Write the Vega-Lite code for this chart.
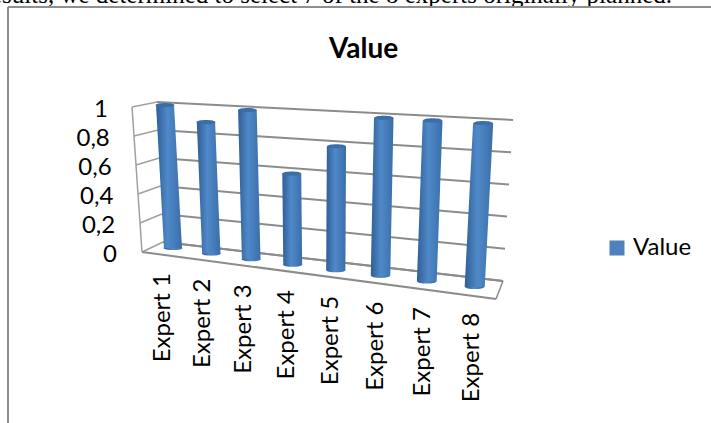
{"$schema":"https://vega.github.io/schema/vega-lite/v6.json","width":711,"height":423,"padding":0,"autosize":"none","background":"white","view":{"stroke":null},
"config":{"font":"Lato","axis":{"disable":true}},
"title":{"text":"Value","font":"Lato","fontSize":28,"fontWeight":"bold","anchor":"start","frame":"group","dx":329,"dy":85,"color":"#000"},
"datasets":{"bars":[{"expert":"Expert 1","i":0,"value":1},{"expert":"Expert 2","i":1,"value":0.9},{"expert":"Expert 3","i":2,"value":1},{"expert":"Expert 4","i":3,"value":0.6},{"expert":"Expert 5","i":4,"value":0.8},{"expert":"Expert 6","i":5,"value":1},{"expert":"Expert 7","i":6,"value":1},{"expert":"Expert 8","i":7,"value":1}],
"ticks":[{"v":0},{"v":0.2},{"v":0.4},{"v":0.6},{"v":0.8},{"v":1}],"depth":[{"d":0},{"d":1}],"caption":[{"t":"results, we determined to select 7 of the 8 experts originally planned."}]},
"encoding":{"x":{"field":"px","type":"quantitative","scale":{"domain":[0,711]},"axis":null},"y":{"field":"py","type":"quantitative","scale":{"domain":[423,0]},"axis":null}},
"layer":[
{"data":{"name":"caption"},"transform":[{"calculate":"672","as":"px"},{"calculate":"3","as":"py"}],"mark":{"type":"text","font":"Liberation Serif","fontSize":25,"align":"right","baseline":"alphabetic","color":"#000"},"encoding":{"text":{"field":"t"}}},
{"data":{"name":"depth"},"transform":[{"calculate":"8","as":"px"},{"calculate":"7","as":"py"},{"calculate":"datum.d==0?8:711","as":"px2"},{"calculate":"datum.d==0?423:7","as":"py2"}],"mark":{"type":"rule","stroke":"#8f8f8f","strokeWidth":2},"encoding":{"x2":{"field":"px2"},"y2":{"field":"py2"}}},
{"data":{"name":"ticks"},"transform":[{"calculate":"163-6*datum.v","as":"px"},{"calculate":"242-140*datum.v","as":"py"},{"calculate":"503+10*datum.v","as":"px2"},{"calculate":"281-161*datum.v","as":"py2"}],"mark":{"type":"rule","stroke":"#8c8c8c","strokeWidth":2},"encoding":{"x2":{"field":"px2"},"y2":{"field":"py2"}}},
{"data":{"name":"ticks"},"transform":[{"calculate":"142-10*datum.v","as":"px"},{"calculate":"252-145*datum.v","as":"py"},{"calculate":"163-6*datum.v","as":"px2"},{"calculate":"242-140*datum.v","as":"py2"}],"mark":{"type":"rule","stroke":"#a0a0a0","strokeWidth":1.5},"encoding":{"x2":{"field":"px2"},"y2":{"field":"py2"}}},
{"data":{"name":"ticks"},"transform":[{"calculate":"142-10*datum.v","as":"px"},{"calculate":"252-145*datum.v","as":"py"}],"mark":{"type":"line","stroke":"#a0a0a0","strokeWidth":1.5},"encoding":{}},
{"data":{"name":"depth"},"transform":[{"calculate":"142+21*datum.d","as":"px"},{"calculate":"252-10*datum.d","as":"py"},{"calculate":"496+7*datum.d","as":"px2"},{"calculate":"299-18*datum.d","as":"py2"}],"mark":{"type":"rule","stroke":"#8c8c8c","strokeWidth":2},"encoding":{"x2":{"field":"px2"},"y2":{"field":"py2"}}},
{"data":{"name":"depth"},"transform":[{"calculate":"496+7*datum.d","as":"px"},{"calculate":"299-18*datum.d","as":"py"}],"mark":{"type":"line","stroke":"#8c8c8c","strokeWidth":1.5},"encoding":{}},
{"data":{"name":"ticks"},"transform":[{"calculate":"117-9*datum.v","as":"px"},{"calculate":"255-145*datum.v","as":"py"},{"calculate":"replace(format(datum.v,'.1~f'),'.',',')","as":"label"}],"mark":{"type":"text","fontSize":24,"align":"right","baseline":"middle","color":"#000"},"encoding":{"text":{"field":"label"}}},
{"data":{"name":"bars"},"transform":[{"calculate":"163+39*datum.i+0.73*datum.i*datum.i","as":"px"},{"calculate":"273+5.7*datum.i","as":"py"}],"mark":{"type":"text","fontSize":24,"angle":270,"align":"right","baseline":"middle","color":"#000"},"encoding":{"text":{"field":"expert"}}},
{"data":{"name":"bars"},"transform":[{"calculate":"173+37.5*datum.i+0.8*datum.i*datum.i","as":"px"},{"calculate":"248+5.57*datum.i","as":"py"}],"mark":{"type":"point","filled":true,"opacity":1,"stroke":null,"shape":"M-1,0A1,0.22 0 1,1 1,0A1,0.22 0 1,1 -1,0Z","size":361,"fill":{"gradient":"linear","x1":0,"x2":1,"y1":0,"y2":0,"stops":[{"offset":0,"color":"#2f5f96"},{"offset":0.45,"color":"#5089c9"},{"offset":1,"color":"#3a6ea8"}]}},"encoding":{}},
{"data":{"name":"bars"},"transform":[{"calculate":"0","as":"base"},{"fold":["value","base"],"as":["end","v"]},{"calculate":"173+37.5*datum.i+0.8*datum.i*datum.i+datum.v*(-8+2*datum.i+0.05*datum.i*datum.i)","as":"xc"},{"calculate":"datum.xc-9-0.15*datum.i","as":"px"},{"calculate":"datum.xc+9+0.15*datum.i","as":"px2"},{"calculate":"248+5.57*datum.i-datum.v*(143+3*datum.i)","as":"py"}],"mark":{"type":"area","orient":"horizontal","fill":{"gradient":"linear","x1":0,"x2":1,"y1":0,"y2":0,"stops":[{"offset":0,"color":"#2f5f96"},{"offset":0.45,"color":"#5089c9"},{"offset":1,"color":"#3a6ea8"}]}},"encoding":{"x2":{"field":"px2"},"detail":{"field":"expert"}}},
{"data":{"name":"bars"},"transform":[{"calculate":"173+37.5*datum.i+0.8*datum.i*datum.i+datum.value*(-8+2*datum.i+0.05*datum.i*datum.i)","as":"px"},{"calculate":"248+5.57*datum.i-datum.value*(143+3*datum.i)","as":"py"}],"mark":{"type":"point","filled":true,"opacity":1,"stroke":null,"shape":"M-1,0A1,0.22 0 1,1 1,0A1,0.22 0 1,1 -1,0Z","size":361,"fill":"#3b6ea8"},"encoding":{}},
{"data":{"name":"bars"},"transform":[{"calculate":"173+37.5*datum.i+0.8*datum.i*datum.i","as":"px"},{"calculate":"248+5.57*datum.i","as":"py"}],"mark":{"type":"square","size":1,"opacity":1},"encoding":{"color":{"datum":"Value","scale":{"range":["#4f81bd"]},"legend":{"title":null,"orient":"none","legendX":605,"legendY":236,"symbolType":"square","symbolSize":225,"labelFont":"Lato","labelFontSize":24,"labelColor":"#000","symbolOpacity":1,"symbolStrokeWidth":0}}}}
]}
